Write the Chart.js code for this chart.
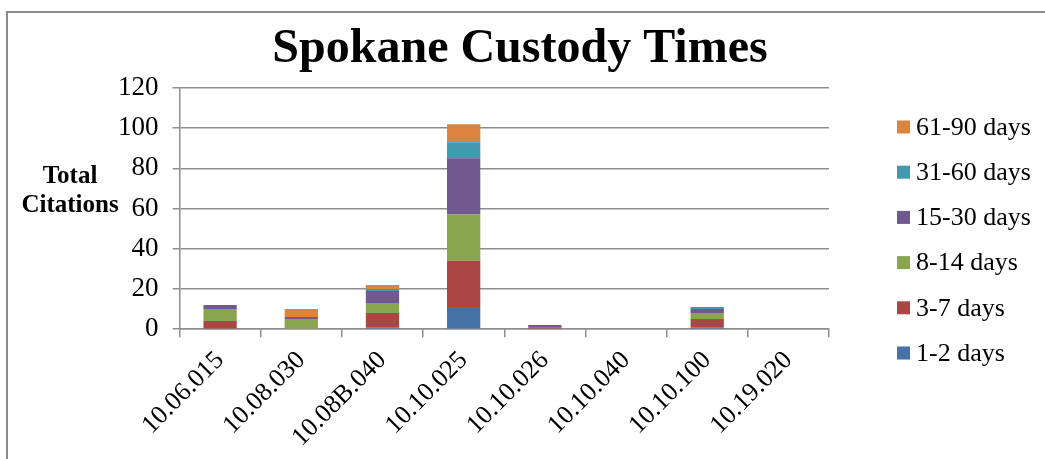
<!DOCTYPE html>
<html>
<head>
<meta charset="utf-8">
<script src="https://cdn.jsdelivr.net/npm/chart.js@4"></script>
<style>
  html, body { margin: 0; padding: 0; background: #fff; }
  #wrap { position: relative; width: 1045px; height: 459px; overflow: hidden; }
  #frame { position: absolute; left: 6px; top: 11px; right: -10px; bottom: -10px;
           border-left: 2px solid #8c8c8c; border-top: 2px solid #8c8c8c; }
  #chart { position: absolute; left: 0; top: 0; }
</style>
</head>
<body>
<div id="wrap">
  <div id="frame"></div>
  <canvas id="chart" width="1045" height="459"></canvas>
</div>
<script>
const CATEGORIES = ['10.06.015', '10.08.030', '10.08B.040', '10.10.025', '10.10.026', '10.10.040', '10.10.100', '10.19.020'];

const DAYS_1_2   = [0, 0, 1, 11, 0, 0, 1, 0];
const DAYS_3_7   = [4, 0, 7, 23, 1, 0, 4, 0];
const DAYS_8_14  = [6, 5, 5, 23, 0, 0, 3, 0];
const DAYS_15_30 = [2, 1, 6, 28, 1, 0, 2, 0];
const DAYS_31_60 = [0, 0, 1, 8, 0, 0, 1, 0];
const DAYS_61_90 = [0, 4, 2, 9, 0, 0, 0, 0];

const SERIES_NAMES = ['1-2 days', '3-7 days', '8-14 days', '15-30 days', '31-60 days', '61-90 days'];
const COLORS = ['#4572A7', '#AA4643', '#89A54E', '#71588F', '#4198AF', '#DB843D'];

const SERIF = "'Liberation Serif', 'Times New Roman', serif";
const GRID = '#8e8e8e';

// title centred on the whole picture, not on the plot
const chartTitle = {
  id: 'chartTitle',
  afterDraw(chart) {
    const ctx = chart.ctx;
    ctx.save();
    ctx.font = `bold 48px ${SERIF}`;
    ctx.fillStyle = '#000';
    ctx.textAlign = 'center';
    ctx.textBaseline = 'alphabetic';
    ctx.fillText('Spokane Custody Times', 520, 62);
    ctx.restore();
  }
};

// y axis title sits flat, left of the ticks
const axisTitle = {
  id: 'axisTitle',
  afterDraw(chart) {
    const ctx = chart.ctx;
    ctx.save();
    ctx.font = `bold 25px ${SERIF}`;
    ctx.fillStyle = '#000';
    ctx.textAlign = 'center';
    ctx.textBaseline = 'middle';
    ctx.fillText('Total', 70, 177);
    ctx.fillText('Citations', 70, 206);
    ctx.restore();
  }
};

// legend column at the right, top item is the last series
const sideLegend = {
  id: 'sideLegend',
  afterDraw(chart) {
    const ctx = chart.ctx;
    const sets = chart.data.datasets.slice().reverse();
    ctx.save();
    ctx.font = `26px ${SERIF}`;
    ctx.textAlign = 'left';
    ctx.textBaseline = 'middle';
    sets.forEach((ds, i) => {
      const y = 127 + i * 45.2;
      ctx.fillStyle = ds.backgroundColor;
      ctx.fillRect(897, y - 6.5, 13, 13);
      ctx.fillStyle = '#000';
      ctx.fillText(ds.label, 916, y + 1);
    });
    ctx.restore();
  }
};

const seriesData = [DAYS_1_2, DAYS_3_7, DAYS_8_14, DAYS_15_30, DAYS_31_60, DAYS_61_90];

new Chart(document.getElementById('chart'), {
  type: 'bar',
  data: {
    labels: CATEGORIES,
    datasets: seriesData.map((d, i) => ({
      label: SERIES_NAMES[i],
      data: d,
      backgroundColor: COLORS[i],
      borderWidth: 0,
      categoryPercentage: 1,
      barPercentage: 0.41,
    })),
  },
  options: {
    responsive: false,
    animation: false,
    layout: { padding: { left: 104, right: 216, top: 88, bottom: -2 } },
    plugins: {
      legend: { display: false },
      tooltip: { enabled: false },
      title: { display: false },
    },
    scales: {
      x: {
        stacked: true,
        grid: { drawOnChartArea: false, drawTicks: true, tickLength: 8, color: GRID, lineWidth: 1.5 },
        border: { color: GRID, width: 1.5 },
        ticks: {
          color: '#000',
          font: { family: SERIF, size: 26 },
          minRotation: 45,
          maxRotation: 45,
          autoSkip: false,
          padding: 8,
        },
      },
      y: {
        stacked: true,
        min: 0,
        max: 120,
        grid: { color: GRID, lineWidth: 1.5, tickLength: 7 },
        border: { color: GRID, width: 1.5 },
        ticks: {
          stepSize: 20,
          color: '#000',
          font: { family: SERIF, size: 27 },
          padding: 14,
        },
      },
    },
  },
  plugins: [chartTitle, axisTitle, sideLegend],
});
</script>
</body>
</html>
